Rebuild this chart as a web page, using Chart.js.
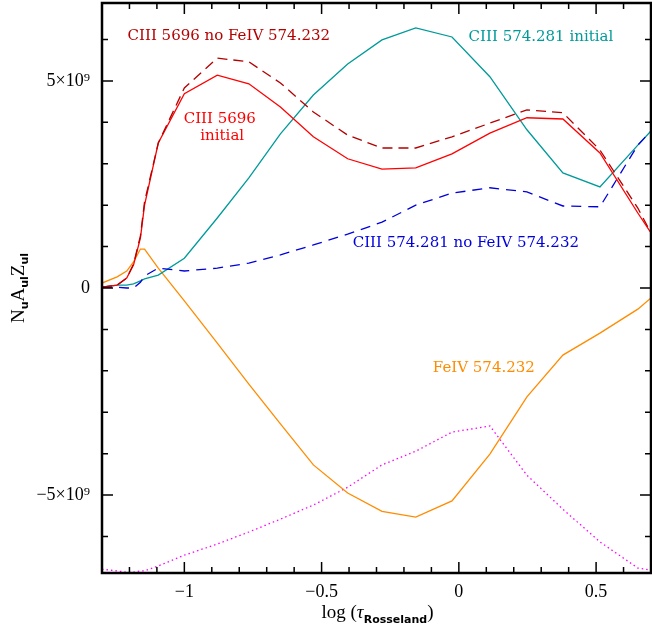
<!DOCTYPE html>
<html>
<head>
<meta charset="utf-8">
<script src="https://cdn.jsdelivr.net/npm/chart.js@4"></script>
<style>body{margin:0;background:#fff}</style>
</head>
<body>
<canvas id="tauChart" width="652" height="629"></canvas>
<script>
// log(tau_Rosseland) grid
const logTau = [-1.30, -1.245, -1.21, -1.185, -1.16, -1.145, -1.095, -1.00, -0.88, -0.765, -0.65, -0.53, -0.405, -0.28, -0.157, -0.025, 0.113, 0.248, 0.379, 0.514, 0.652, 0.70];

// N_u A_ul Z_ul in units of 1e9
const c3_5696_initial = [0.02, 0.07, 0.24, 0.56, 1.21, 2.00, 3.50, 4.69, 5.14, 4.93, 4.37, 3.65, 3.12, 2.87, 2.90, 3.24, 3.74, 4.11, 4.08, 3.26, 1.81, 1.33];
const c3_5696_noFe = [0.02, 0.07, 0.24, 0.58, 1.26, 2.08, 3.50, 4.83, 5.55, 5.46, 4.95, 4.25, 3.69, 3.38, 3.38, 3.65, 3.98, 4.30, 4.23, 3.33, 1.93, 1.33];
const c3_574_initial = [0.02, 0.07, 0.07, 0.10, 0.17, 0.22, 0.31, 0.72, 1.69, 2.66, 3.72, 4.66, 5.41, 5.99, 6.28, 6.06, 5.10, 3.82, 2.78, 2.44, 3.45, 3.79];
const c3_574_noFe = [0.02, 0.02, 0.00, 0.00, 0.14, 0.29, 0.48, 0.41, 0.48, 0.60, 0.80, 1.04, 1.30, 1.59, 2.00, 2.29, 2.42, 2.32, 1.98, 1.96, 3.45, 3.79];
const fe4_574 = [0.12, 0.27, 0.41, 0.63, 0.94, 0.94, 0.48, -0.31, -1.33, -2.32, -3.28, -4.27, -4.95, -5.39, -5.53, -5.14, -4.01, -2.63, -1.62, -1.09, -0.51, -0.24];
const difference = [-6.79, -6.83, -6.86, -6.86, -6.83, -6.83, -6.71, -6.45, -6.18, -5.89, -5.58, -5.24, -4.81, -4.27, -3.94, -3.48, -3.33, -4.52, -5.34, -6.13, -6.76, -6.81];

const xTicks = [-1, -0.5, 0, 0.5];
const yTicks = [-5e9, 0, 5e9];

const labels = [
  {text: 'CIII 5696 no FeIV 574.232', x: -0.838, y: 5.98e9, color: '#b40000'},
  {text: 'CIII 5696', x: -0.871, y: 3.98e9, color: '#ff0000'},
  {text: 'initial', x: -0.862, y: 3.57e9, color: '#ff0000'},
  {text: 'CIII 574.281 initial', x: 0.299, y: 5.97e9, color: '#009a9a'},
  {text: 'CIII 574.281 no FeIV 574.232', x: 0.0255, y: 0.98e9, color: '#0000dd'},
  {text: 'FeIV 574.232', x: 0.091, y: -2.02e9, color: '#ff8c00'}
];

function series(vals) {
  return vals.map((v, i) => ({x: logTau[i], y: v * 1e9}));
}

function fmtX(v) {
  return v < 0 ? '\u2212' + Math.abs(v) : String(v);
}
function fmtY(v) {
  if (v === 0) return '0';
  return (v < 0 ? '\u2212' : '') + '5\u00d710\u2079';
}

const framePlugin = {
  id: 'frame',
  afterDraw(chart) {
    const ctx = chart.ctx;
    const a = chart.chartArea;
    const xs = chart.scales.x, ys = chart.scales.y;
    ctx.save();
    ctx.strokeStyle = '#000';
    // ticks
    ctx.lineWidth = 1.5;
    ctx.beginPath();
    for (let k = -13; k <= 7; k++) {
      const v = k / 10;
      const px = xs.getPixelForValue(v);
      const len = (k % 5 === 0) ? 11 : 6;
      ctx.moveTo(px, a.bottom); ctx.lineTo(px, a.bottom - len);
      ctx.moveTo(px, a.top); ctx.lineTo(px, a.top + len);
    }
    for (let k = -6; k <= 6; k++) {
      const py = ys.getPixelForValue(k * 1e9);
      const len = (k % 5 === 0) ? 11 : 6;
      ctx.moveTo(a.left, py); ctx.lineTo(a.left + len, py);
      ctx.moveTo(a.right, py); ctx.lineTo(a.right - len, py);
    }
    ctx.stroke();
    // frame
    ctx.lineWidth = 2.5;
    ctx.strokeRect(a.left, a.top, a.right - a.left, a.bottom - a.top);

    // labels inside the plot
    ctx.font = '15px "DejaVu Serif"';
    ctx.textAlign = 'center';
    ctx.textBaseline = 'alphabetic';
    labels.forEach(l => {
      ctx.fillStyle = l.color;
      ctx.fillText(l.text, xs.getPixelForValue(l.x), ys.getPixelForValue(l.y));
    });

    // x title: log (tau_Rosseland)
    ctx.fillStyle = '#000';
    ctx.textAlign = 'left';
    const big = '19px "Liberation Serif"';
    const sub = 'bold 11px "DejaVu Sans"';
    const parts = [['log (', big, 0], ['\u03c4', 'italic 19px "Liberation Serif"', 0], ['Rosseland', sub, 5], [')', big, 0]];
    let w = 0;
    parts.forEach(p => { ctx.font = p[1]; w += ctx.measureText(p[0]).width; });
    let cx = (a.left + a.right) / 2 - w / 2 + 1;
    parts.forEach(p => { ctx.font = p[1]; ctx.fillText(p[0], cx, 618 + p[2]); cx += ctx.measureText(p[0]).width; });

    // y title: N_u A_ul Z_ul
    ctx.translate(24, (a.top + a.bottom) / 2);
    ctx.rotate(-Math.PI / 2);
    const yparts = [['N', big, 0], ['u', sub, 4], ['A', big, 0], ['ul', sub, 4], ['Z', big, 0], ['ul', sub, 4]];
    w = 0;
    yparts.forEach(p => { ctx.font = p[1]; w += ctx.measureText(p[0]).width; });
    cx = -w / 2;
    yparts.forEach(p => { ctx.font = p[1]; ctx.fillText(p[0], cx, p[2]); cx += ctx.measureText(p[0]).width; });
    ctx.restore();
  }
};

const ctx = document.getElementById('tauChart');
new Chart(ctx, {
  type: 'line',
  data: {
    datasets: [
      {data: series(c3_5696_noFe), borderColor: '#b40000', borderDash: [10, 6]},
      {data: series(c3_5696_initial), borderColor: '#ff0000'},
      {data: series(c3_574_noFe), borderColor: '#0000dd', borderDash: [10, 7]},
      {data: series(c3_574_initial), borderColor: '#009a9a'},
      {data: series(fe4_574), borderColor: '#ff8c00'},
      {data: series(difference), borderColor: '#ff00ff', borderDash: [1.5, 3]}
    ].map(d => Object.assign({borderWidth: 1.3, pointRadius: 0, tension: 0, fill: false}, d))
  },
  options: {
    responsive: false,
    animation: false,
    layout: {padding: {top: 3, right: 1, left: 0, bottom: 0}},
    plugins: {legend: {display: false}, tooltip: {enabled: false}},
    scales: {
      x: {
        type: 'linear', min: -1.3, max: 0.7,
        grid: {display: false, drawTicks: false},
        border: {display: false},
        afterBuildTicks: s => { s.ticks = xTicks.map(v => ({value: v})); },
        afterFit: s => { s.height = 56; s.paddingLeft = 0; s.paddingRight = 0; },
        ticks: {color: '#000', padding: 8, maxRotation: 0, font: {family: '"Liberation Serif"', size: 18}, callback: v => fmtX(v)}
      },
      y: {
        type: 'linear', min: -6.88e9, max: 6.88e9,
        grid: {display: false, drawTicks: false},
        border: {display: false},
        afterBuildTicks: s => { s.ticks = yTicks.map(v => ({value: v})); },
        afterFit: s => { s.width = 102; s.paddingTop = 0; s.paddingBottom = 0; },
        ticks: {color: '#000', padding: 12, font: {family: '"Liberation Serif"', size: 18}, callback: v => fmtY(v)}
      }
    }
  },
  plugins: [framePlugin]
});
</script>
</body>
</html>
